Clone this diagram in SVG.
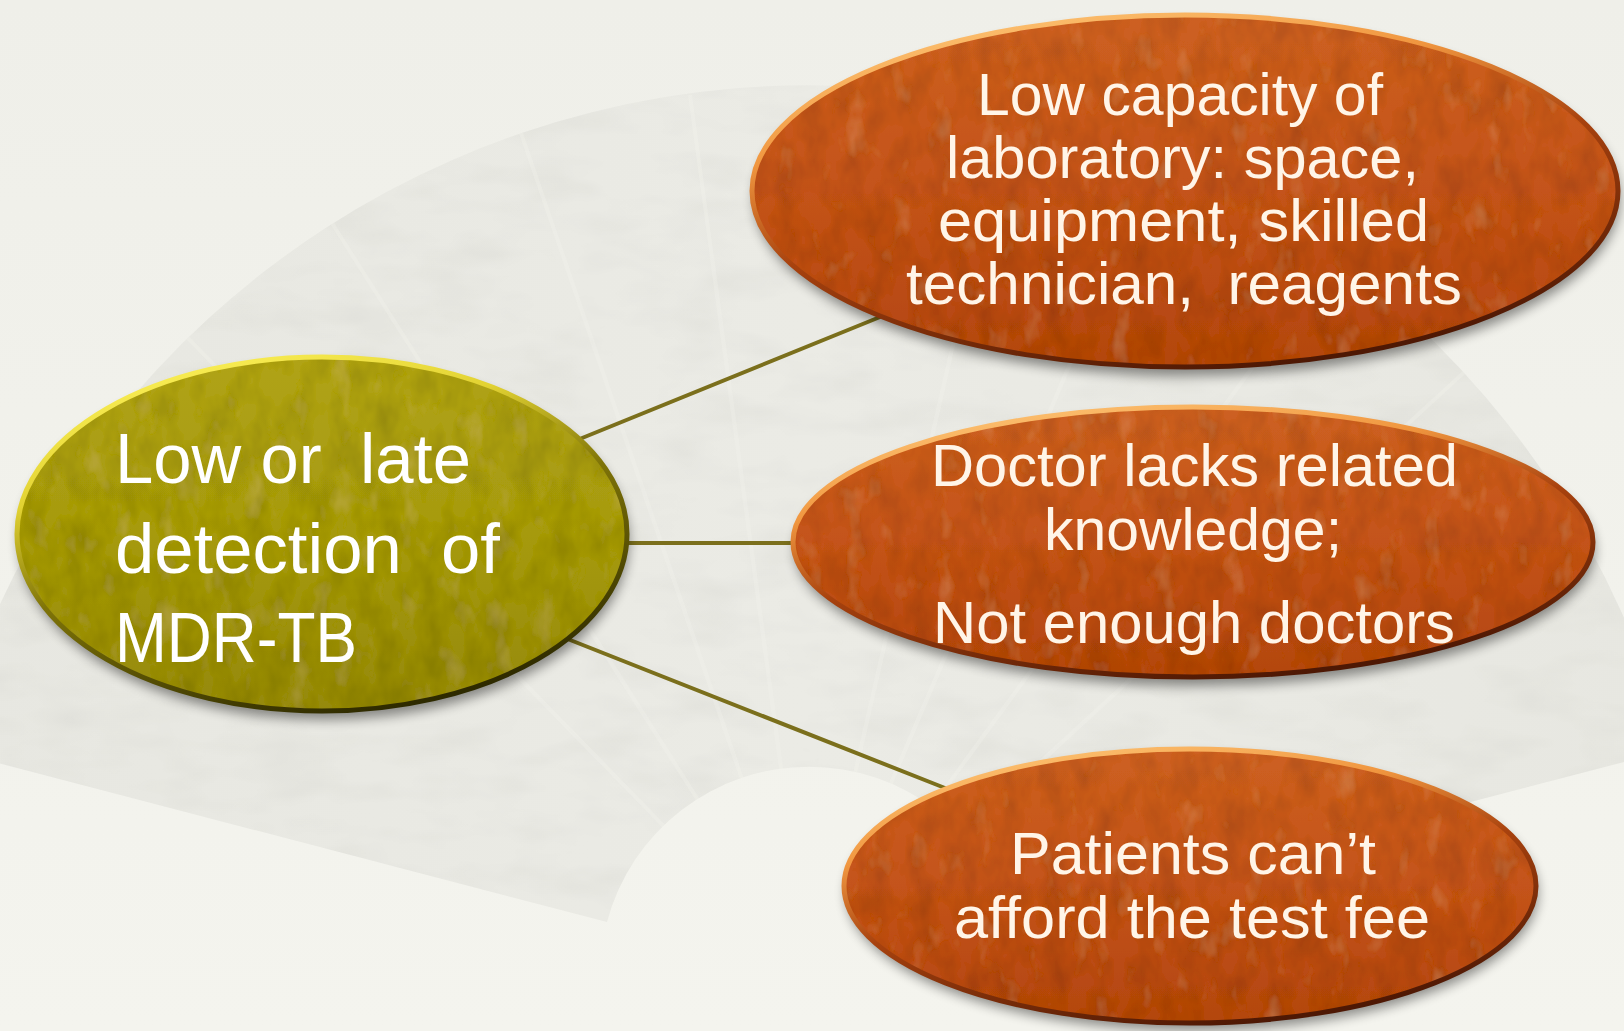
<svg xmlns="http://www.w3.org/2000/svg" width="1624" height="1031" viewBox="0 0 1624 1031">
  <style>
    .t-o { font-family: "Liberation Sans", Arial, sans-serif; font-size: 60px; fill: #fff5e8; }
    .t-c { font-family: "Liberation Sans", Arial, sans-serif; font-size: 70px; fill: #ffffff; }
    .edge { stroke: #7b6f1c; stroke-width: 4; fill: none; stroke-linecap: round; }
    .shadow { fill: #000; opacity: 0.42; filter: url(#blur); }
  </style>
  <defs>
    <linearGradient id="bg" x1="0" y1="0" x2="0" y2="1">
      <stop offset="0" stop-color="#efefe9"/>
      <stop offset="1" stop-color="#f4f4ee"/>
    </linearGradient>
    <linearGradient id="fanG" x1="0" y1="0" x2="1" y2="0">
      <stop offset="0" stop-color="#e7e7e1"/>
      <stop offset="0.5" stop-color="#ebebe5"/>
      <stop offset="1" stop-color="#e7e7e1"/>
    </linearGradient>
    <linearGradient id="orangeFill" x1="0" y1="0" x2="0" y2="1">
      <stop offset="0" stop-color="#cd6021"/>
      <stop offset="0.5" stop-color="#c4531a"/>
      <stop offset="1" stop-color="#b3460f"/>
    </linearGradient>
    <linearGradient id="orangeRim" x1="0.15" y1="0" x2="0.6" y2="1">
      <stop offset="0" stop-color="#ffc97a"/>
      <stop offset="0.3" stop-color="#f0963f"/>
      <stop offset="0.55" stop-color="#a8420e"/>
      <stop offset="1" stop-color="#4e1804"/>
    </linearGradient>
    <linearGradient id="oliveFill" x1="0" y1="0" x2="0" y2="1">
      <stop offset="0" stop-color="#b0a316"/>
      <stop offset="0.5" stop-color="#a69a10"/>
      <stop offset="1" stop-color="#95890a"/>
    </linearGradient>
    <linearGradient id="oliveRim" x1="0.15" y1="0" x2="0.6" y2="1">
      <stop offset="0" stop-color="#fff45c"/>
      <stop offset="0.3" stop-color="#e2d232"/>
      <stop offset="0.55" stop-color="#7f7408"/>
      <stop offset="1" stop-color="#2e2a00"/>
    </linearGradient>
    <clipPath id="fanClip">
      <path d="M -52 750 A 890 890 0 0 1 1670 750 L 1011 922 A 209 209 0 0 0 607 922 Z"/>
    </clipPath>
    <filter id="blur" x="-10%" y="-10%" width="120%" height="130%">
      <feGaussianBlur stdDeviation="6"/>
    </filter>
    <filter id="tex" x="0" y="0" width="1" height="1">
      <feTurbulence type="fractalNoise" baseFrequency="0.045 0.025" numOctaves="3" seed="7" result="noise"/>
      <feColorMatrix in="noise" type="matrix" values="0 0 0 0 0  0 0 0 0 0  0 0 0 0 0  0.5 0 0 0 -0.2" result="dark"/>
      <feColorMatrix in="noise" type="matrix" values="0 0 0 0 1  0 0 0 0 0.7  0 0 0 0 0.3  0 -0.35 0 0 0.14" result="light"/>
      <feComposite in="dark" in2="SourceGraphic" operator="in" result="darkIn"/>
      <feComposite in="light" in2="SourceGraphic" operator="in" result="lightIn"/>
      <feMerge>
        <feMergeNode in="SourceGraphic"/>
        <feMergeNode in="darkIn"/>
        <feMergeNode in="lightIn"/>
      </feMerge>
    </filter>
    <filter id="fanTex" x="0" y="0" width="1" height="1">
      <feTurbulence type="fractalNoise" baseFrequency="0.012 0.03" numOctaves="3" seed="3" result="n"/>
      <feColorMatrix in="n" type="matrix" values="0 0 0 0 0.5  0 0 0 0 0.5  0 0 0 0 0.48  0.35 0 0 0 -0.15" result="d"/>
      <feComposite in="d" in2="SourceGraphic" operator="in" result="dIn"/>
      <feMerge>
        <feMergeNode in="SourceGraphic"/>
        <feMergeNode in="dIn"/>
      </feMerge>
    </filter>
  </defs>

  <g id="background">
    <rect x="0" y="0" width="1624" height="1031" fill="url(#bg)"/>
    <path id="fan" d="M -52 750 A 890 890 0 0 1 1670 750 L 1011 922 A 209 209 0 0 0 607 922 Z" fill="url(#fanG)" filter="url(#fanTex)"/>
    <g clip-path="url(#fanClip)" opacity="0.25" stroke="#f6f6f0" stroke-width="4" fill="none">
      <line x1="809" y1="975" x2="180" y2="330"/>
      <line x1="809" y1="975" x2="330" y2="220"/>
      <line x1="809" y1="975" x2="520" y2="130"/>
      <line x1="809" y1="975" x2="690" y2="95"/>
      <line x1="809" y1="975" x2="1010" y2="95"/>
      <line x1="809" y1="975" x2="1170" y2="130"/>
      <line x1="809" y1="975" x2="1360" y2="220"/>
      <line x1="809" y1="975" x2="1510" y2="330"/>
    </g>
  </g>

  <g id="connectors">
    <line class="edge" x1="560" y1="447" x2="880" y2="317"/>
    <line class="edge" x1="610" y1="543" x2="800" y2="543"/>
    <line class="edge" x1="555" y1="634" x2="950" y2="790"/>
  </g>

  <g id="node-center">
    <ellipse class="shadow" cx="324" cy="542" rx="305" ry="178"/>
    <ellipse cx="322" cy="534" rx="305" ry="177" fill="url(#oliveFill)" filter="url(#tex)"/>
    <ellipse cx="322" cy="534" rx="305" ry="177" fill="none" stroke="url(#oliveRim)" stroke-width="5"/>
    <text class="t-c" x="115" y="483" textLength="356" lengthAdjust="spacingAndGlyphs" xml:space="preserve">Low or  late</text>
    <text class="t-c" x="115" y="573" textLength="385" lengthAdjust="spacingAndGlyphs" xml:space="preserve">detection  of</text>
    <text class="t-c" x="115" y="662" textLength="242" lengthAdjust="spacingAndGlyphs">MDR-TB</text>
  </g>

  <g id="node-lab">
    <ellipse class="shadow" cx="1187" cy="199" rx="433" ry="177"/>
    <ellipse cx="1185" cy="191" rx="433" ry="176" fill="url(#orangeFill)" filter="url(#tex)"/>
    <ellipse cx="1185" cy="191" rx="433" ry="176" fill="none" stroke="url(#orangeRim)" stroke-width="5"/>
    <text class="t-o" x="977" y="115" textLength="406" lengthAdjust="spacingAndGlyphs">Low capacity of</text>
    <text class="t-o" x="946" y="178" textLength="473" lengthAdjust="spacingAndGlyphs">laboratory: space,</text>
    <text class="t-o" x="938" y="241" textLength="491" lengthAdjust="spacingAndGlyphs">equipment, skilled</text>
    <text class="t-o" x="906" y="304" textLength="556" lengthAdjust="spacingAndGlyphs" xml:space="preserve">technician,  reagents</text>
  </g>

  <g id="node-doctor">
    <ellipse class="shadow" cx="1195" cy="550" rx="400" ry="136"/>
    <ellipse cx="1193" cy="542" rx="400" ry="135" fill="url(#orangeFill)" filter="url(#tex)"/>
    <ellipse cx="1193" cy="542" rx="400" ry="135" fill="none" stroke="url(#orangeRim)" stroke-width="5"/>
    <text class="t-o" x="931" y="486" textLength="527" lengthAdjust="spacingAndGlyphs">Doctor lacks related</text>
    <text class="t-o" x="1044" y="550" textLength="298" lengthAdjust="spacingAndGlyphs">knowledge;</text>
    <text class="t-o" x="933" y="643" textLength="522" lengthAdjust="spacingAndGlyphs">Not enough doctors</text>
  </g>

  <g id="node-fee">
    <ellipse class="shadow" cx="1192" cy="893" rx="346" ry="138"/>
    <ellipse cx="1190" cy="886" rx="346" ry="137" fill="url(#orangeFill)" filter="url(#tex)"/>
    <ellipse cx="1190" cy="886" rx="346" ry="137" fill="none" stroke="url(#orangeRim)" stroke-width="5"/>
    <text class="t-o" x="1010" y="874" textLength="366" lengthAdjust="spacingAndGlyphs">Patients can’t</text>
    <text class="t-o" x="954" y="938" textLength="476" lengthAdjust="spacingAndGlyphs">afford the test fee</text>
  </g>
</svg>
